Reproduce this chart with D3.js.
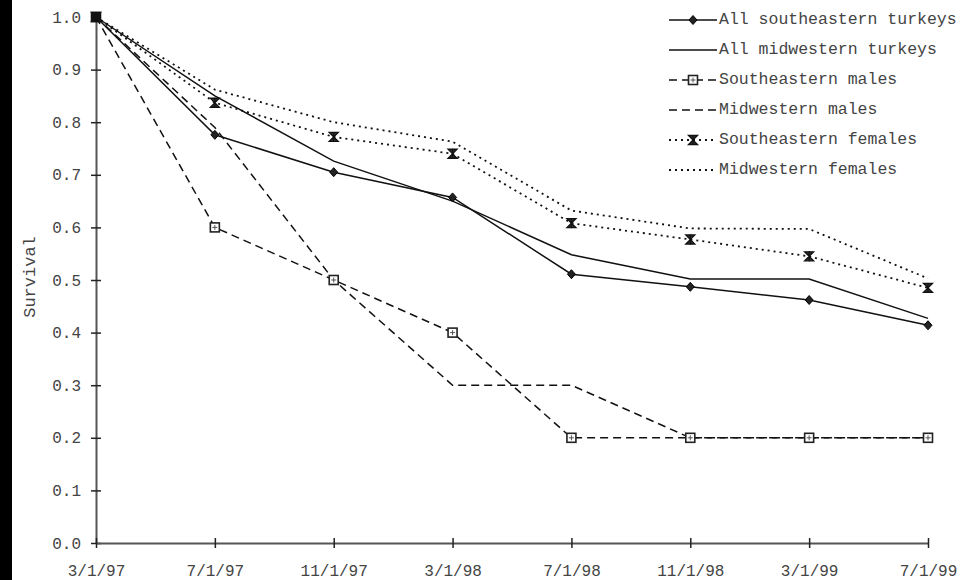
<!DOCTYPE html>
<html>
<head>
<meta charset="utf-8">
<script src="https://cdn.jsdelivr.net/npm/d3@7"></script>
<style>
  body { margin: 0; background: #fff; }
  svg { display: block; }
  .chart text { font-family: "Liberation Mono", "Courier New", monospace; fill: #444; }
</style>
</head>
<body>
<div id="chart"></div>
<script>
// dates on the x axis
const dates = ['3/1/97', '7/1/97', '11/1/97', '3/1/98', '7/1/98', '11/1/98', '3/1/99', '7/1/99'];
const yTicks = [0, 0.1, 0.2, 0.3, 0.4, 0.5, 0.6, 0.7, 0.8, 0.9, 1.0];

// survival values
const seAll = [1.0, 0.776, 0.705, 0.657, 0.511, 0.487, 0.462, 0.414];
const mwAll = [1.0, 0.85, 0.726, 0.65, 0.548, 0.502, 0.502, 0.427];
const seMales = [1.0, 0.6, 0.5, 0.4, 0.2, 0.2, 0.2, 0.2];
const mwMales = [1.0, 0.79, 0.5, 0.3, 0.3, 0.2, 0.2, 0.2];
const seFemales = [1.0, 0.837, 0.772, 0.74, 0.608, 0.577, 0.545, 0.485];
const mwFemales = [1.0, 0.862, 0.8, 0.763, 0.632, 0.598, 0.597, 0.503];

const seriesNames = ['All southeastern turkeys', 'All midwestern turkeys', 'Southeastern males',
  'Midwestern males', 'Southeastern females', 'Midwestern females'];

const series = [
  { name: seriesNames[0], values: seAll, dash: null, marker: 'diamond' },
  { name: seriesNames[1], values: mwAll, dash: null, marker: null },
  { name: seriesNames[2], values: seMales, dash: '8,5', marker: 'square' },
  { name: seriesNames[3], values: mwMales, dash: '8,5', marker: null },
  { name: seriesNames[4], values: seFemales, dash: '2,4', marker: 'star' },
  { name: seriesNames[5], values: mwFemales, dash: '2,4', marker: null }
];

const width = 972, height = 580;
const svg = d3.select('#chart').append('svg')
  .attr('class', 'chart')
  .attr('width', width)
  .attr('height', height);

svg.append('rect').attr('width', width).attr('height', height).attr('fill', '#fff');
// dark strip on the left edge of the scan
svg.append('rect').attr('width', 12).attr('height', height).attr('fill', '#000');

const x = d3.scalePoint().domain(dates).range([96, 928]);
const y = d3.scaleLinear().domain([0, 1]).range([543, 17]);

// axes
const yAxis = svg.append('g')
  .attr('transform', 'translate(96,0)')
  .call(d3.axisLeft(y).tickValues(yTicks).tickFormat(d3.format('.1f')).tickSizeOuter(0).tickPadding(9));
const xAxis = svg.append('g')
  .attr('transform', 'translate(0,543)')
  .call(d3.axisBottom(x).tickSizeOuter(0).tickPadding(16));

[yAxis, xAxis].forEach((g) => {
  g.select('.domain').attr('stroke', '#555').attr('stroke-width', 2);
  g.selectAll('.tick line').attr('stroke', '#222').attr('stroke-width', 1.5);
  g.selectAll('.tick text').attr('font-size', 16).attr('fill', '#444');
});
yAxis.selectAll('.tick line').attr('x1', -5).attr('x2', 5);
xAxis.selectAll('.tick line').attr('y1', -5).attr('y2', 5);

svg.append('text')
  .attr('transform', 'translate(31,277) rotate(-90)')
  .attr('text-anchor', 'middle')
  .attr('dominant-baseline', 'middle')
  .attr('font-size', 17)
  .text('Survival');

const line = d3.line()
  .x((d, i) => x(dates[i]))
  .y((d) => y(d));

const drawMarker = (g, type, cx, cy) => {
  if (type === 'diamond') {
    g.append('path')
      .attr('d', `M${cx},${cy - 4.5}L${cx + 4},${cy}L${cx},${cy + 4.5}L${cx - 4},${cy}Z`)
      .attr('fill', '#222').attr('stroke', '#000').attr('stroke-width', 1);
  } else if (type === 'square') {
    g.append('rect')
      .attr('x', cx - 4.5).attr('y', cy - 4.5).attr('width', 9).attr('height', 9)
      .attr('fill', '#fff').attr('stroke', '#222').attr('stroke-width', 1.6);
    g.append('path')
      .attr('d', `M${cx - 2.5},${cy}H${cx + 2.5}M${cx},${cy - 2.5}V${cy + 2.5}`)
      .attr('stroke', '#555').attr('stroke-width', 1);
  } else if (type === 'star') {
    g.append('path')
      .attr('d', `M${cx - 4.5},${cy - 4.5}H${cx + 4.5}L${cx - 4.5},${cy + 4.5}H${cx + 4.5}Z`)
      .attr('fill', '#333').attr('stroke', '#111').attr('stroke-width', 1.3);
    g.append('path')
      .attr('d', `M${cx},${cy - 5}V${cy + 5}`)
      .attr('stroke', '#111').attr('stroke-width', 1.3);
  }
};

const plot = svg.append('g');
series.forEach((s) => {
  plot.append('path')
    .datum(s.values)
    .attr('d', line)
    .attr('fill', 'none')
    .attr('stroke', '#111')
    .attr('stroke-width', s.dash === '2,4' ? 1.8 : 1.5)
    .attr('stroke-dasharray', s.dash);
});
series.forEach((s) => {
  if (!s.marker) return;
  s.values.forEach((v, i) => drawMarker(plot, s.marker, x(dates[i]), y(v)));
});
// overlapping markers at the common start point
plot.append('rect')
  .attr('x', x(dates[0]) - 5).attr('y', y(1) - 5).attr('width', 10).attr('height', 10)
  .attr('fill', '#111');

// legend
const legend = svg.append('g').attr('transform', 'translate(669,20)');
series.forEach((s, i) => {
  const row = legend.append('g').attr('transform', `translate(0,${i * 30})`);
  row.append('line')
    .attr('x1', 0).attr('x2', 48).attr('y1', 0).attr('y2', 0)
    .attr('stroke', '#111')
    .attr('stroke-width', s.dash === '2,4' ? 1.8 : 1.5)
    .attr('stroke-dasharray', s.dash);
  if (s.marker) drawMarker(row, s.marker, 24, 0);
  row.append('text')
    .attr('x', 50).attr('y', 0)
    .attr('dominant-baseline', 'middle')
    .attr('font-size', 16.5)
    .text(s.name);
});
</script>
</body>
</html>
